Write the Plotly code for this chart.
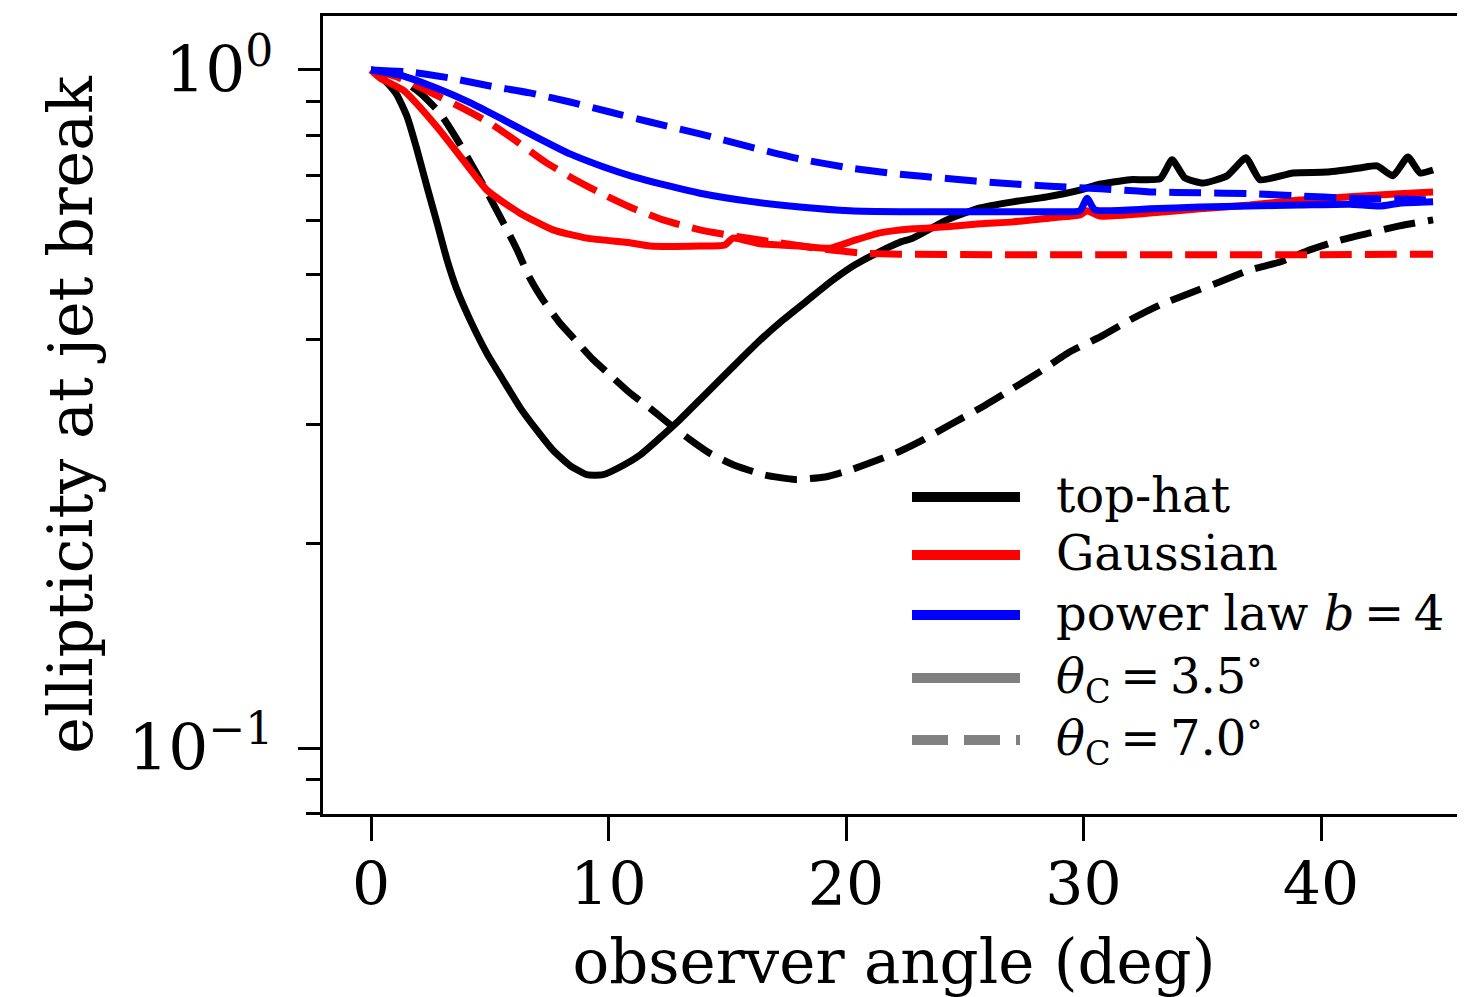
import plotly.graph_objects as go

# ---------------- data ----------------
tophat_35_x = [0, 0.38, 0.80, 1.09, 1.52, 1.94, 2.36, 2.78, 3.2, 3.62, 4.17, 4.88, 5.56, 6.27,
               6.99, 7.66, 8.38, 9.09, 9.77, 10.61, 11.33, 12.08, 12.88, 14.06, 15.24, 16.3,
               17.35, 18.4, 19.45, 20.38, 21.3, 22.27, 22.82, 24.25, 25.64, 27.03, 28.46, 29.85,
               30.57, 31.96, 33.22, 33.73, 34.27, 35.03, 36.04, 36.84, 37.43, 38.82, 40.25,
               41.64, 42.36, 43.03, 43.66, 44.17, 44.72]
tophat_35_y = [1.0, 0.980, 0.947, 0.919, 0.853, 0.762, 0.672, 0.595, 0.525, 0.474, 0.428, 0.382,
               0.349, 0.318, 0.294, 0.275, 0.261, 0.253, 0.253, 0.261, 0.2705, 0.285, 0.302,
               0.332, 0.365, 0.397, 0.428, 0.458, 0.490, 0.516, 0.537, 0.557, 0.565, 0.601,
               0.626, 0.639, 0.650, 0.665, 0.677, 0.689, 0.691, 0.737, 0.693, 0.681, 0.698,
               0.742, 0.689, 0.705, 0.707, 0.717, 0.722, 0.698, 0.744, 0.705, 0.712]

tophat_70_x = [0, 1.01, 2.06, 2.9, 3.66, 4.72, 5.64, 6.15, 6.69, 7.24, 7.96, 8.59, 9.35, 10.06,
               10.9, 11.75, 12.59, 13.43, 14.27, 15.33, 16.59, 17.85, 19.12, 20.17, 21.22,
               22.27, 23.1, 24.4, 25.64, 26.9, 28.17, 29.43, 30.7, 31.96, 33.2, 34.5, 35.75,
               37.0, 38.27, 39.54, 40.8, 42.06, 43.3, 44.72]
tophat_70_y = [1.0, 0.983, 0.925, 0.864, 0.786, 0.677, 0.589, 0.543, 0.493, 0.458, 0.423, 0.400,
               0.374, 0.355, 0.334, 0.317, 0.300, 0.285, 0.272, 0.261, 0.2527, 0.249, 0.251,
               0.257, 0.265, 0.274, 0.283, 0.300, 0.317, 0.337, 0.359, 0.384, 0.404, 0.428,
               0.450, 0.469, 0.487, 0.507, 0.521, 0.543, 0.561, 0.575, 0.589, 0.601]

gauss_35_x = [0, 0.38, 1.35, 2.78, 3.87, 4.88, 6.27, 7.66, 9.09, 10.9, 11.75, 13.85,
              14.9, 15.24, 16.38, 18.06, 19.33, 20.38, 21.43, 22.82, 24.25, 25.64, 27.03, 28.6,
              29.85, 30.15, 30.7, 32.8, 34.9, 37.0, 39.1, 41.2, 43.3, 44.72]
gauss_35_y = [1.0, 0.973, 0.934, 0.824, 0.737, 0.665, 0.615, 0.581, 0.565, 0.556,
              0.550, 0.550, 0.552, 0.565, 0.554, 0.550, 0.546, 0.561, 0.575, 0.583, 0.587,
              0.593, 0.597, 0.605, 0.611, 0.620, 0.609, 0.615, 0.624, 0.632, 0.643, 0.650,
              0.657, 0.661]

gauss_70_x = [0, 1.22, 2.48, 3.75, 5.01, 6.06, 7.33, 8.46, 9.64, 10.9, 12.3, 13.85, 15.54, 17.22,
              18.9, 20.6, 22.27, 26.5, 30.7, 34.9, 39.1, 44.72]
gauss_70_y = [1.0, 0.973, 0.928, 0.882, 0.835, 0.788, 0.732, 0.693, 0.659, 0.628, 0.601, 0.581,
              0.567, 0.556, 0.545, 0.537, 0.535, 0.534, 0.534, 0.534, 0.534, 0.535]

plaw_35_x = [0, 1.22, 2.78, 4.17, 5.56, 7.0, 8.38, 9.77, 11.0, 12.5, 13.85, 15.96, 18.06, 20.17,
             22.27, 24.38, 26.48, 28.6, 29.85, 30.15, 30.48, 32.8, 34.9, 37.0, 39.1, 41.2, 42.48,
             43.3, 44.72]
plaw_35_y = [1.0, 0.983, 0.940, 0.895, 0.845, 0.795, 0.752, 0.720, 0.697, 0.675, 0.658, 0.640,
             0.628, 0.620, 0.618, 0.618, 0.618, 0.618, 0.620, 0.647, 0.622, 0.624, 0.628, 0.630,
             0.632, 0.634, 0.630, 0.636, 0.639]

plaw_70_x = [0, 1.64, 3.33, 5.01, 6.69, 8.38, 10.06, 11.75, 13.85, 15.96, 18.06, 20.17, 22.27,
             24.38, 26.48, 28.6, 30.7, 32.8, 34.9, 37.0, 39.1, 41.2, 43.3, 44.72]
plaw_70_y = [1.0, 0.993, 0.973, 0.947, 0.925, 0.897, 0.867, 0.838, 0.805, 0.770, 0.739, 0.717,
             0.702, 0.691, 0.681, 0.674, 0.668, 0.661, 0.659, 0.657, 0.652, 0.647, 0.645, 0.643]

x_tick_vals = [0, 10, 20, 30, 40]
y_tick_vals = [0.1, 1]
y_tick_text = ["10<sup>−1</sup>", "10<sup>0</sup>"]
y_minor_vals = [0.08, 0.09, 0.2, 0.3, 0.4, 0.5, 0.6, 0.7, 0.8, 0.9]

TS = "\u2009"  # thin space, as in the math labels
legend_labels = ["top-hat", "Gaussian", "power law <i>b</i>" + TS + "=" + TS + "4",
                 "<i>θ</i><sub>C</sub>" + TS + "=" + TS + "3.5<sup>∘</sup>",
                 "<i>θ</i><sub>C</sub>" + TS + "=" + TS + "7.0<sup>∘</sup>"]
legend_colors = ["#000000", "#ff0000", "#0000ff", "#808080", "#808080"]
legend_dashes = ["solid", "solid", "solid", "solid", "36px,16px"]

# ---------------- figure ----------------
FONT = "DejaVu Serif"
LW = 7
DASH = "32px,13px"

series = [
    (tophat_35_x, tophat_35_y, "#000000", "solid"),
    (tophat_70_x, tophat_70_y, "#000000", DASH),
    (gauss_35_x, gauss_35_y, "#ff0000", "solid"),
    (gauss_70_x, gauss_70_y, "#ff0000", DASH),
    (plaw_35_x, plaw_35_y, "#0000ff", "solid"),
    (plaw_70_x, plaw_70_y, "#0000ff", DASH),
]

fig = go.Figure()
for xs, ys, col, dash in series:
    fig.add_trace(go.Scatter(x=xs, y=ys, mode="lines", showlegend=False,
                             line=dict(color=col, width=LW, dash=dash,
                                       shape="spline", smoothing=0.5)))

# page has an 8px body margin: the figure is placed at (8, 8)
OFF = 8
W, H = 1465 - OFF, 997 - OFF
PL, PT, PB, PR = 323, 16, 814, 1465          # plot area in page pixels
ML, MT, MB, MR = PL - OFF, PT - OFF, H - (PB - OFF), 0
pw, ph = PR - PL, PB - PT
def px_x(p):
    return (p - PL) / pw
def px_y(p):
    return (PB - p) / ph

# manual legend (long line samples as in the reference)
leg_rows = [497, 555, 615, 678, 740]
shapes = []
annotations = []
for lab, col, dash, row in zip(legend_labels, legend_colors, legend_dashes, leg_rows):
    shapes.append(dict(type="line", xref="paper", yref="paper",
                       x0=px_x(912), x1=px_x(1020), y0=px_y(row), y1=px_y(row),
                       line=dict(color=col, width=10, dash=dash)))
    annotations.append(dict(xref="paper", yref="paper", x=px_x(1054), y=px_y(row - 2),
                            xanchor="left", yanchor="middle", text=lab, showarrow=False,
                            font=dict(family=FONT, size=48, color="#000000")))

fig.update_layout(
    width=W, height=H,
    margin=dict(l=ML, r=MR, t=MT, b=MB, pad=0, autoexpand=False),
    paper_bgcolor="white", plot_bgcolor="white",
    font=dict(family=FONT, color="#000000"),
    shapes=shapes, annotations=annotations,
)

fig.update_xaxes(
    automargin=False,
    range=[(PL - 371) / 23.75, (PR - 371) / 23.75],
    tickvals=x_tick_vals, ticktext=[str(v) for v in x_tick_vals],
    ticks="outside", ticklen=24, tickwidth=3, tickcolor="#000000",
    showline=True, linewidth=3, linecolor="#000000", mirror=True,
    showgrid=False, zeroline=False,
    tickfont=dict(family=FONT, size=60, color="#000000"),
    ticklabelstandoff=-8,
    title=dict(text="observer angle (deg)", font=dict(family=FONT, size=61, color="#000000"),
               standoff=42),
)
fig.update_yaxes(
    automargin=False,
    type="log", range=[-1.0973, 0.0796],
    tickvals=y_tick_vals, ticktext=y_tick_text,
    ticks="outside", ticklen=22, tickwidth=3, tickcolor="#000000",
    minor=dict(ticks="outside", ticklen=14, tickwidth=3, tickcolor="#000000",
               tickvals=y_minor_vals, showgrid=False),
    showline=True, linewidth=3, linecolor="#000000", mirror=False,
    showgrid=False, zeroline=False,
    tickfont=dict(family=FONT, size=63, color="#000000"),
    ticklabelstandoff=12,
    title=dict(text="ellipticity at jet break", font=dict(family=FONT, size=62, color="#000000"),
               standoff=16),
)

fig.write_html("out.html")
